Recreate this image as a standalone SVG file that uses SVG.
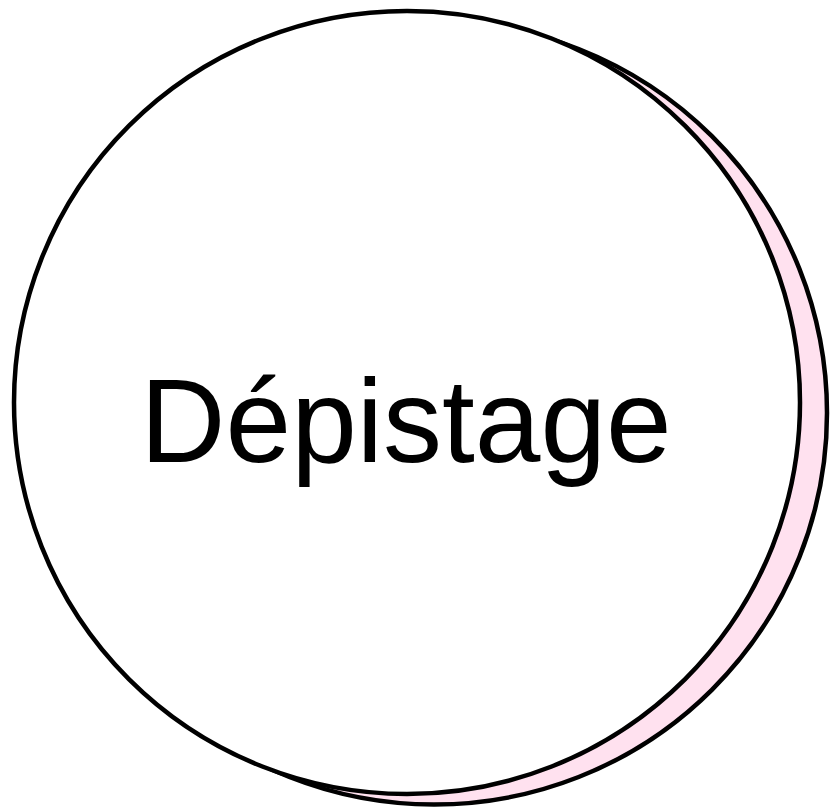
<svg xmlns="http://www.w3.org/2000/svg" width="831" height="812" viewBox="0 0 831 812">
<style>
.c{stroke:#000;stroke-width:4.5}
.t{font-family:"Liberation Sans",Arial,sans-serif;font-size:118px;fill:#000}
</style>
<rect width="831" height="812" fill="#fff"/>
<g id="shadow"><ellipse class="c" cx="434" cy="413" rx="393" ry="391.5" fill="#FFE1EF"/></g>
<g id="node-depistage">
<ellipse class="c" cx="407" cy="402.5" rx="393" ry="391.5" fill="#fff"/>
<text class="t" x="406" y="462" text-anchor="middle">Dépistage</text>
</g>
<g id="connectors"/>
</svg>
